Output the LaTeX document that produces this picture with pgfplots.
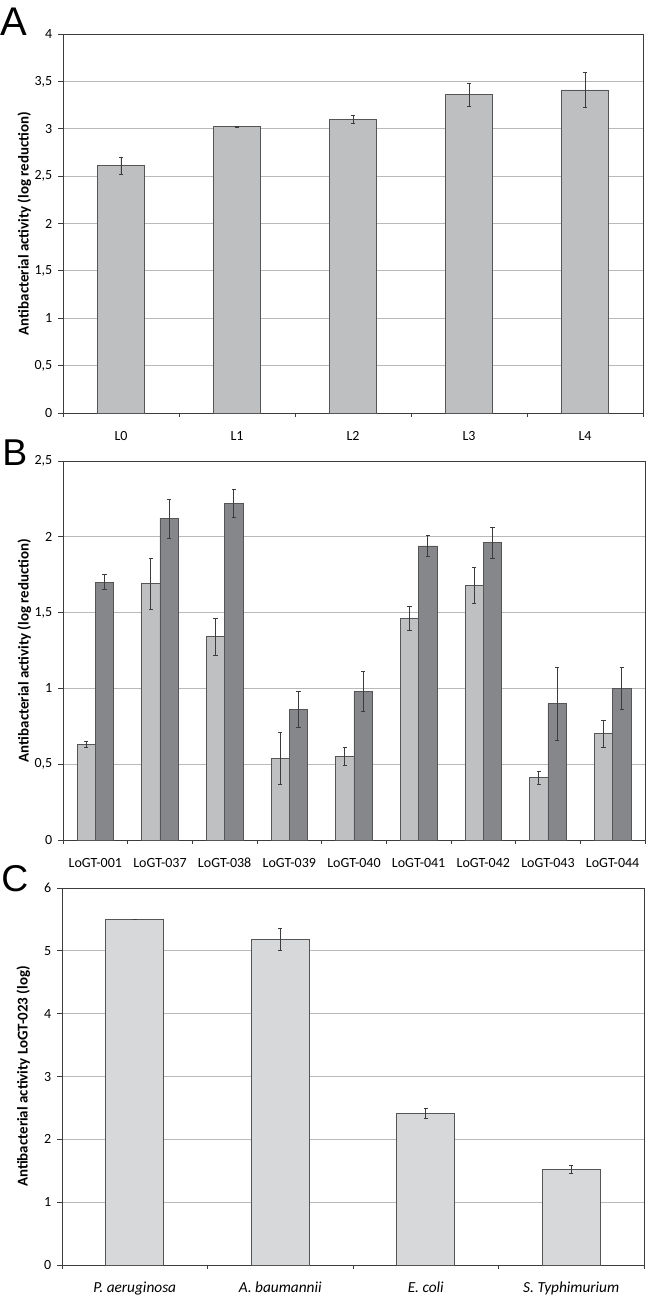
\documentclass[border=0pt]{standalone}
\usepackage{pgfplots}
\pgfplotsset{compat=1.18}
\usepackage{fontspec}
\setmainfont{Carlito}
\newfontfamily\letfont{Liberation Sans}
\definecolor{barA}{RGB}{190,191,193}
\definecolor{barL}{RGB}{191,192,194}
\definecolor{barD}{RGB}{134,135,139}
\definecolor{barC}{RGB}{215,216,218}
\definecolor{edge}{RGB}{85,85,85}
\definecolor{gridc}{RGB}{185,185,185}
\definecolor{axc}{RGB}{60,60,60}

\pgfplotstableread{
x y e
0 2.61 0.09
1 3.02 0.005
2 3.10 0.04
3 3.36 0.12
4 3.41 0.18
}\dataA
\pgfplotstableread{
x l le d de
0 0.63 0.02 1.70 0.05
1 1.69 0.17 2.12 0.13
2 1.34 0.12 2.22 0.09
3 0.54 0.17 0.86 0.12
4 0.55 0.06 0.98 0.13
5 1.46 0.08 1.94 0.07
6 1.68 0.12 1.96 0.10
7 0.41 0.04 0.90 0.24
8 0.70 0.09 1.00 0.14
}\dataB
\pgfplotstableread{
x y e
0 5.50 0
1 5.18 0.17
2 2.41 0.08
3 1.52 0.07
}\dataC

\pgfplotsset{
  common/.style={
    scale only axis,
    axis line style={axc, line width=0.6pt},
    ymajorgrids,
    major grid style={gridc, line width=0.6pt},
    tick style={axc, line width=0.6pt},
    ytick pos=left,
    xtick pos=bottom,
    tick align=outside,
    major tick length=3.5pt,
    minor tick length=3pt,
    major x tick style={draw=none},
    xtick=data,
    ymin=0,
    font=\fontsize{10.5}{12}\selectfont,
    /pgf/number format/use comma,
    /pgf/number format/assume math mode=true,
    yticklabel style={font=\fontsize{10.5}{12}\selectfont, xshift=-1pt},
    xticklabel style={font=\fontsize{10.5}{12}\selectfont, anchor=base, yshift=-17pt},
    ylabel style={font=\fontsize{11.2}{13}\selectfont\bfseries, at={([xshift=-29pt]axis description cs:0,0.5)}, anchor=center},
    error bars/error bar style={axc, line width=0.6pt},
    error bars/error mark options={rotate=90, mark size=1.6pt, line width=0.6pt, axc},
    clip=false,
  },
}

\begin{document}
\begin{tikzpicture}
\useasboundingbox (0,0) rectangle (487.5pt,-975pt);

% Panel A
\begin{axis}[common,
  at={(47.25pt,-25.5pt)}, anchor=north west,
  width=435pt, height=284.25pt,
  xmin=-0.5, xmax=4.5, ymax=4,
  ytick={0,0.5,...,4},
  minor xtick={-0.5,0.5,...,4.5},
  xticklabels={L0,L1,L2,L3,L4},
  ylabel={Antibacterial activity (log reduction)},
  ybar, bar width=35pt,
]
\addplot[fill=barA, draw=edge, line width=0.6pt,
  error bars/.cd, y dir=both, y explicit]
  table[x=x, y=y, y error=e] {\dataA};
\end{axis}

% Panel B
\begin{axis}[common,
  at={(47.25pt,-345.75pt)}, anchor=north west,
  width=436.5pt, height=284.25pt,
  xmin=-0.5, xmax=8.5, ymax=2.5,
  ytick={0,0.5,...,2.5},
  minor xtick={-0.5,0.5,...,8.5},
  xticklabels={LoGT-001,LoGT-037,LoGT-038,LoGT-039,LoGT-040,LoGT-041,LoGT-042,LoGT-043,LoGT-044},
  ylabel={Antibacterial activity (log reduction)},
  ybar, bar width=13.7pt,
]
\addplot[fill=barL, draw=edge, line width=0.6pt, bar shift=-6.85pt,
  error bars/.cd, y dir=both, y explicit]
  table[x=x, y=l, y error=le] {\dataB};
\addplot[fill=barD, draw=edge, line width=0.6pt, bar shift=6.85pt,
  error bars/.cd, y dir=both, y explicit]
  table[x=x, y=d, y error=de] {\dataB};
\end{axis}

% Panel C
\begin{axis}[common,
  at={(46.5pt,-666pt)}, anchor=north west,
  width=436.5pt, height=282.75pt,
  xmin=-0.5, xmax=3.5, ymax=6,
  ytick={0,1,...,6},
  minor xtick={-0.5,0.5,...,3.5},
  xticklabels={\textit{P. aeruginosa},\textit{A. baumannii},\textit{E. coli},\textit{S. Typhimurium}},
  xticklabel style={font=\fontsize{11.5}{13}\selectfont},
  ylabel={Antibacterial activity LoGT-023 (log)},
  ybar, bar width=43.5pt,
]
\addplot[fill=barC, draw=edge, line width=0.6pt,
  error bars/.cd, y dir=both, y explicit]
  table[x=x, y=y, y error=e] {\dataC};
\end{axis}

\node[anchor=base west, inner sep=0, font=\fontsize{30}{30}\letfont] at (0.3pt,-26.25pt) {A};
\node[anchor=base west, inner sep=0, font=\fontsize{28}{28}\letfont] at (1.5pt,-348.75pt) {B};
\node[anchor=base west, inner sep=0, font=\fontsize{28}{28}\letfont] at (0.75pt,-668.25pt) {C};
\end{tikzpicture}
\end{document}
